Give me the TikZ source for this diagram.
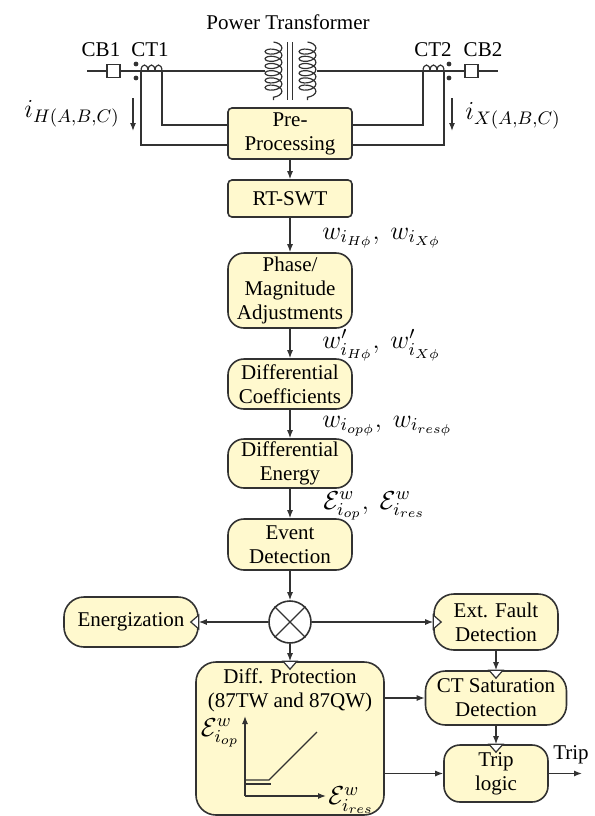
\RequirePackage{fix-cm}
\documentclass[tikz,border=0pt]{standalone}
\usepackage{fontspec}
\setmainfont{Liberation Serif}
\usetikzlibrary{arrows.meta,decorations.pathmorphing}
\definecolor{boxfill}{RGB}{255,249,206}
\definecolor{edgegray}{RGB}{50,50,50}

\begin{document}
\begin{tikzpicture}[x=0.5pt, y=-0.5pt,
    every node/.style={font=\fontsize{10.5}{12}\selectfont},
    block/.style={draw=edgegray, line width=0.8pt, fill=boxfill, align=center, inner sep=1pt},
    wire/.style={draw=edgegray, line width=0.6pt},
    flow/.style={wire, -{Latex[length=4pt,width=3pt]}},
    port/.style={draw=edgegray, line width=0.6pt, fill=white},
    breaker/.style={draw=edgegray, line width=0.6pt, fill=white, minimum size=6.5pt, inner sep=0pt},
    mathlbl/.style={font=\fontsize{13}{15}\selectfont, inner sep=0pt}]
  \useasboundingbox (0,0) rectangle (595,816);
  % Define the width of the main column blocks
  \newcommand\ColW{62pt}

  % Main processing chain
  \node[block, rounded corners=2pt, minimum width=\ColW, minimum height=25.5pt] (pre) at (290,133.5) {Pre-\\Processing};
  \node[block, rounded corners=2pt, minimum width=\ColW, minimum height=18.5pt] (swt) at (290,198.5) {RT-SWT};
  \node[block, rounded corners=8pt, minimum width=\ColW, minimum height=37.5pt] (adj) at (290,290.5) {Phase/\\Magnitude\\Adjustments};
  \node[block, rounded corners=8pt, minimum width=\ColW, minimum height=25pt] (coef) at (290,384) {Differential\\Coefficients};
  \node[block, rounded corners=8pt, minimum width=\ColW, minimum height=24.5pt] (ener) at (290,463.5) {Differential\\Energy};
  \node[block, rounded corners=8pt, minimum width=\ColW, minimum height=25.5pt] (event) at (290,544.5) {Event\\Detection};
  \node[draw=edgegray, line width=0.8pt, circle, minimum size=21pt, inner sep=0pt] (mix) at (290,622) {};
  \draw[wire] (mix.north west) -- (mix.south east) (mix.north east) -- (mix.south west);

  % Decision blocks
  \node[block, rounded corners=10pt, minimum width=67pt, minimum height=25pt] (energ) at (131,622) {Energization};
  \node[block, rounded corners=10pt, minimum width=62pt, minimum height=28pt] (ext) at (496,622) {Ext. Fault\\Detection};
  \node[block, rounded corners=10pt, minimum width=94pt, minimum height=76.5pt] (diff) at (290,738.5) {};
  \node[block, rounded corners=10pt, minimum width=70.5pt, minimum height=27pt] (sat) at (496,698) {CT Saturation\\Detection};
  \node[block, rounded corners=8pt, minimum width=52pt, minimum height=28.5pt] (trip) at (496,773.5) {Trip\\logic};
  \node[align=center] (diffTxt) at (290,690) {Diff. Protection\\(87TW and 87QW)};

  % Power line, breakers and current transformers
  \node (trLbl) at (288,22) {Power Transformer};
  \node (cb1Lbl) at (101,50) {CB1};
  \node (ct1Lbl) at (150,50) {CT1};
  \node (ct2Lbl) at (433,50) {CT2};
  \node (cb2Lbl) at (483,50) {CB2};
  \coordinate (lineL) at (87,71);
  \coordinate (lineR) at (498,71);
  \coordinate (trL) at (265,71);
  \coordinate (trR) at (317,71);
  \draw[wire] (lineL) -- (trL);
  \draw[wire] (trR) -- (lineR);
  \node[breaker] (cb1) at (113.5,71) {};
  \node[breaker] (cb2) at (471.5,71) {};
  % CT windings, three turns each
  \foreach \x in {141,423} {
    \foreach \k in {0,1,2} {
      \draw[wire] (\x+7*\k,71) .. controls (\x+7*\k,63) and (\x+7*\k+7,63) .. (\x+7*\k+7,71);
    }
  }
  % Polarity dots
  \foreach \x in {136,449} {
    \fill[edgegray] (\x,64) circle (1.2pt);
    \fill[edgegray] (\x,78) circle (1.2pt);
  }
  % Transformer windings and core
  \draw[wire, decorate, decoration={coil, aspect=0.5, amplitude=4.2pt, segment length=3.6pt}] (273.5,42) -- (273.5,100);
  \draw[wire, decorate, decoration={coil, aspect=0.5, amplitude=4.2pt, segment length=3.6pt}] (307.5,42) -- (307.5,100);
  \draw[wire] (287.5,42) -- (287.5,100);
  \draw[wire] (292.5,42) -- (292.5,100);

  % CT secondaries to the pre-processing block
  \coordinate (ct1Out) at (141,71);
  \coordinate (ct1In) at (162,71);
  \coordinate (ct2In) at (423,71);
  \coordinate (ct2Out) at (444,71);
  \draw[wire] (ct1In) |- ([yshift=4.25pt]pre.west);
  \draw[wire] (ct1Out) |- ([yshift=-5.75pt]pre.west);
  \draw[wire] (ct2In) |- ([yshift=4.25pt]pre.east);
  \draw[wire] (ct2Out) |- ([yshift=-5.75pt]pre.east);
  % Measured currents
  \coordinate (iHtop) at (133,98);
  \coordinate (iHbot) at (133,131);
  \coordinate (iXtop) at (452,98);
  \coordinate (iXbot) at (452,131);
  \draw[flow] (iHtop) -- (iHbot);
  \draw[flow] (iXtop) -- (iXbot);
  \node[mathlbl, anchor=east] (iHLbl) at (120,114) {$i_{H(A,B,C)}$};
  \node[mathlbl, anchor=west] (iXLbl) at (465,116) {$i_{X(A,B,C)}$};

  % Connect the main chain
  \draw[flow] (pre) -- (swt);
  \draw[flow] (swt) -- (adj);
  \draw[flow] (adj) -- (coef);
  \draw[flow] (coef) -- (ener);
  \draw[flow] (ener) -- (event);
  \draw[flow] (event) -- (mix);
  \node[mathlbl, anchor=west] (wLbl) at (322,238) {$w_{i_{H\phi}},\ w_{i_{X\phi}}$};
  \node[mathlbl, anchor=west] (wpLbl) at (322,345) {$w'_{i_{H\phi}},\ w'_{i_{X\phi}}$};
  \node[mathlbl, anchor=west] (wopLbl) at (322,426) {$w_{i_{op\phi}},\ w_{i_{res\phi}}$};
  \node[mathlbl, anchor=west] (eLbl) at (323,506) {$\mathcal{E}^w_{i_{op}},\ \mathcal{E}^w_{i_{res}}$};

  % Branches out of the selector
  \draw[flow] (mix) -- (energ);
  \draw[flow] (mix) -- (ext);
  \draw[flow] (mix) -- (diff);
  \draw[flow] (ext) -- (sat);
  \draw[flow] (sat) -- (trip);
  \draw[flow] (diff.east |- sat) -- (sat);
  \draw[flow] (diff.east |- trip) -- (trip);
  \coordinate (tripOut) at (582,773.5);
  \draw[flow] (trip) -- (tripOut);
  \node (tripLbl) at (571,755) {Trip};

  % Input ports
  \foreach \n in {diff,sat,trip} {
    \draw[port] (\n.north) ++(-7,0) -- ++(14,0) -- ++(-7,8) -- cycle;
  }
  \draw[port] (energ.east) ++(0,-7) -- ++(0,14) -- ++(-8,-7) -- cycle;
  \draw[port] (ext.west) ++(0,-7) -- ++(0,14) -- ++(8,-7) -- cycle;

  % Operating characteristic inside the differential block
  \coordinate (gO) at (245,796);
  \coordinate (gY) at (245,716);
  \coordinate (gX) at (326,796);
  \draw[flow] (gO) -- (gY);
  \draw[flow] (gO) -- (gX);
  \draw[wire] (245,780) -- (269,780) -- (317,732);
  \draw[wire] (245,784) -- (271,784);
  \node[mathlbl] (gYLbl) at (220,733) {$\mathcal{E}^w_{i_{op}}$};
  \node[mathlbl, anchor=west] (gXLbl) at (328,800) {$\mathcal{E}^w_{i_{res}}$};
\end{tikzpicture}
\end{document}
